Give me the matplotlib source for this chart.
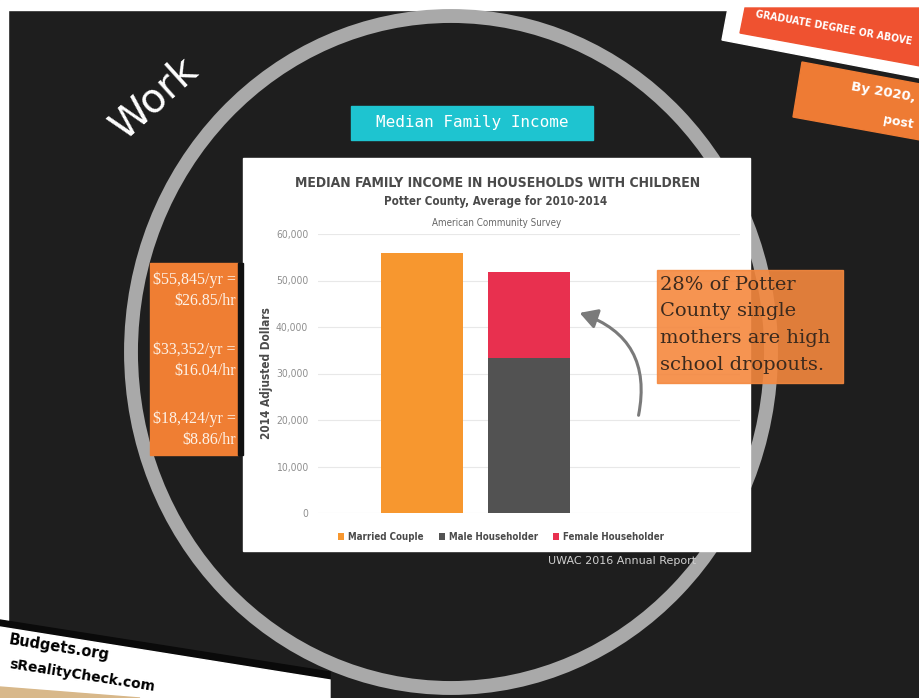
import matplotlib
matplotlib.use('Agg')
import matplotlib.pyplot as plt
from matplotlib.patches import Rectangle, Ellipse, Polygon, FancyArrowPatch

# data
categories = ['Married Couple', 'Male Householder', 'Female Householder']
incomes = [55845, 33352, 18424]
hourly = [26.85, 16.04, 8.86]
bar_slot = [0, 1, 1]
colors = ['#f7972f', '#525252', '#e8304f']
yticks = [0, 10000, 20000, 30000, 40000, 50000, 60000]

W, H = 920, 698
fig = plt.figure(figsize=(W / 100, H / 100), dpi=100)
fig.patch.set_facecolor('#1e1e1e')

cond = ['DejaVu Sans']
serif = ['Liberation Serif', 'DejaVu Serif']
CS = 'condensed'

# background layer in pixel coords
bg = fig.add_axes([0, 0, 1, 1])
bg.set_xlim(0, W)
bg.set_ylim(H, 0)
bg.axis('off')

bg.add_patch(Rectangle((0, 0), W, 10, color='white'))
bg.add_patch(Rectangle((0, 0), 8, 640, color='white'))

# big ring
bg.add_patch(Ellipse((451, 352), 640, 672, fill=False, edgecolor='#a9a9a9', lw=10))

# bottom-left strip
bg.add_patch(Polygon([(0, 620), (330, 672), (330, 698), (0, 698)], color='#0a0a0a', zorder=3))
bg.add_patch(Polygon([(0, 627), (330, 680), (330, 698), (0, 698)], color='white', zorder=3))
bg.add_patch(Polygon([(0, 687), (140, 698), (0, 698)], color='#d8b88a', zorder=4))
bg.text(9, 640, 'Budgets.org', rotation=-9, fontsize=10.5, fontweight='bold', color='black',
        va='center', ha='left', zorder=5, rotation_mode='anchor')
bg.text(9, 664, 'sRealityCheck.com', rotation=-9, fontsize=10, fontweight='bold', color='black',
        va='center', ha='left', zorder=5, rotation_mode='anchor')

# top-right cards
bg.add_patch(Polygon([(728, 8), (920, 8), (920, 78), (722, 40)], color='white', zorder=3))
bg.add_patch(Polygon([(745, 8), (920, 8), (920, 66), (740, 33)], color='#ef5230', zorder=4))
bg.text(834, 28, 'GRADUATE DEGREE OR ABOVE', rotation=-10, fontsize=7.5, fontweight='bold',
        color='white', ha='center', va='center', zorder=5, family=cond, fontstretch=CS)
bg.add_patch(Polygon([(802, 62), (920, 84), (920, 140), (793, 117)], color='#ee7b34', zorder=4))
bg.text(850, 92, 'By 2020,', rotation=-10, fontsize=9.5, fontweight='bold', color='white',
        ha='left', va='center', zorder=5)
bg.text(882, 122, 'post', rotation=-10, fontsize=9, fontweight='bold', color='white',
        ha='left', va='center', zorder=5)

# "Work"
bg.text(155, 98, 'Work', rotation=42, fontsize=29, color='white', ha='center', va='center',
        family=['DejaVu Sans'], zorder=5)

# cyan heading
bg.add_patch(Rectangle((351, 106), 242, 34, color='#1ec4d0', zorder=3))
bg.text(472, 123, 'Median Family Income', fontsize=11.5, color='white', ha='center', va='center',
        family=['DejaVu Sans Mono'], zorder=4)

# white chart panel
bg.add_patch(Rectangle((243, 158), 507, 393, color='white', zorder=3))
bg.text(498, 183, 'MEDIAN FAMILY INCOME IN HOUSEHOLDS WITH CHILDREN', fontsize=10,
        fontweight='bold', color='#4a4a4a', ha='center', va='center', family=cond,
        fontstretch=CS, zorder=4)
bg.text(496, 201, 'Potter County, Average for 2010-2014', fontsize=8.3,
        fontweight='bold', color='#4a4a4a', ha='center', va='center', family=cond,
        fontstretch=CS, zorder=4)
bg.text(497, 223, 'American Community Survey', fontsize=7,
        color='#666666', ha='center', va='center', family=cond, fontstretch=CS, zorder=4)
bg.text(622, 561, 'UWAC 2016 Annual Report', fontsize=8, color='#cfcfcf', ha='center',
        va='center', zorder=4)

# left orange box
bg.add_patch(Rectangle((150, 263), 88, 192, color='#ef7e33', zorder=3))
bg.add_patch(Rectangle((238, 263), 5, 192, color='#111111', zorder=3))
for i, yy in enumerate([280, 350, 419]):
    bg.text(236, yy, f'${incomes[i]:,}/yr =', fontsize=11.5, color='#fdf1e6', ha='right',
            va='center', family=serif, zorder=4)
    bg.text(236, yy + 21, f'${hourly[i]:.2f}/hr', fontsize=11.5, color='#fdf1e6', ha='right',
            va='center', family=serif, zorder=4)

# chart axes
x0, x1, y0, y1 = 318, 740, 513, 234
ax = fig.add_axes([x0 / W, (H - y0) / H, (x1 - x0) / W, (y0 - y1) / H])
ax.set_facecolor('none')
ax.set_zorder(2)
bottoms = [0, 0, incomes[1]]
handles = []
for i in range(3):
    b = ax.bar(bar_slot[i], incomes[i], width=0.77, bottom=bottoms[i], color=colors[i],
               label=categories[i], zorder=3)
    handles.append(b)
ax.set_xlim(-0.97, 2.97)
ax.set_ylim(0, 60000)
ax.set_yticks(yticks)
ax.set_yticklabels([f'{t:,}' for t in yticks], family=cond, fontstretch=CS, fontsize=7.5,
                   color='#8f8f8f')
ax.set_xticks([])
ax.tick_params(axis='y', length=0, pad=7)
ax.grid(axis='y', color='#e8e8e8', lw=0.8, zorder=0)
for s in ax.spines.values():
    s.set_visible(False)
ax.set_ylabel('2014 Adjusted Dollars', family=cond, fontstretch=CS, fontsize=8.5,
              fontweight='bold', color='#4a4a4a')
ax.yaxis.set_label_coords(-0.107, 0.5)
leg = ax.legend(handles=handles, loc='center', bbox_to_anchor=(0.434, -0.086), ncol=3,
                frameon=False, handlelength=0.6, handleheight=0.6, handletextpad=0.4,
                columnspacing=1.6,
                prop={'family': cond, 'size': 7, 'weight': 'bold', 'stretch': CS})
for t in leg.get_texts():
    t.set_color('#4a4a4a')

# overlay
top = fig.add_axes([0, 0, 1, 1])
top.set_xlim(0, W)
top.set_ylim(H, 0)
top.axis('off')
top.set_zorder(3)
top.add_patch(Rectangle((657, 270), 186, 113, color='#f5883e', alpha=0.9))
note = ['28% of Potter', 'County single', 'mothers are high', 'school dropouts.']
for i, line in enumerate(note):
    top.text(660, 285 + i * 26.5, line, fontsize=14, color='#3b2a1e', ha='left', va='center',
             family=['DejaVu Serif'])
top.add_patch(FancyArrowPatch((638, 418), (577, 312), connectionstyle='arc3,rad=0.45',
                              arrowstyle='-|>,head_length=7,head_width=4', color='#7a7a7a',
                              lw=2.2, mutation_scale=1.5))

fig.savefig('out.png', dpi=100, facecolor=fig.get_facecolor())
